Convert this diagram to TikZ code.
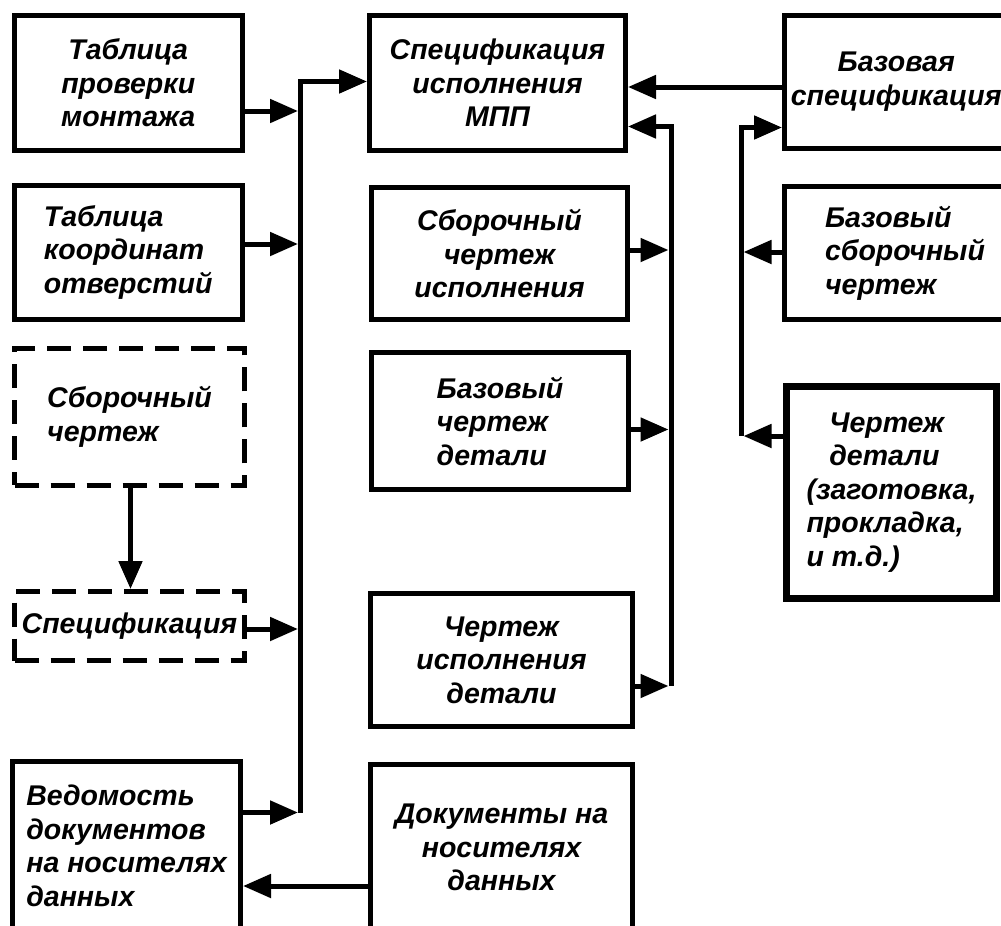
\documentclass[tikz,border=0pt]{standalone}
\usepackage{fontspec}
\setmainfont{Liberation Sans}
\usetikzlibrary{arrows.meta}
\begin{document}
\begin{tikzpicture}[x=1pt,y=-1pt,
  box/.style={draw, line width=5pt, inner sep=0pt, line join=miter,
    font=\fontsize{28.5}{33.5}\selectfont\bfseries\itshape, align=center},
  lbox/.style={box, align=left},
  dbox/.style={box, dash pattern=on 24pt off 12pt},
  conn/.style={line width=5pt, line join=miter},
  arr/.style={conn, -{Triangle[length=28pt,width=23pt]}},
  arrb/.style={arr, shorten >=2.5pt},
]
\useasboundingbox (0,0) rectangle (1001,926);

% left column
\node[box, minimum width=227.5pt, minimum height=135pt] (B1) at (128.25,83) {Таблица\\проверки\\монтажа};
\node[lbox, minimum width=227.5pt, minimum height=134pt] (B2) at (128.25,252.5) {Таблица\\координат\\отверстий};
\node[dbox, align=left, minimum width=230pt, minimum height=136.5pt] (B3) at (129.5,417) {Сборочный\\чертеж};
\node[dbox, minimum width=230pt, minimum height=69pt] (B4) at (129.5,626) {Спецификация};
\node[lbox, minimum width=228pt, minimum height=169pt] (B5) at (126.5,846) {Ведомость\\документов\\на носителях\\данных};

% centre column
\node[box, minimum width=256pt, minimum height=135pt] (C1) at (497.5,83) {Спецификация\\исполнения\\МПП};
\node[box, minimum width=256pt, minimum height=132pt] (C2) at (499.5,253.5) {Сборочный\\чертеж\\исполнения};
\node[lbox, minimum width=256.5pt, minimum height=136.5pt] (C3) at (500,421) {Базовый\\чертеж\\детали};
\node[box, minimum width=262pt, minimum height=132.5pt] (C4) at (501.5,660) {Чертеж\\исполнения\\детали};
\node[box, minimum width=262pt, minimum height=167pt] (C5) at (501.5,847.5) {Документы на\\носителях\\данных};

% right column
\node[box, minimum width=223.5pt, minimum height=133.5pt] (R1) at (896.25,81.75) {Базовая\\спецификация};
\node[lbox, minimum width=241pt, minimum height=133pt] (R2) at (905,253) {Базовый\\сборочный\\чертеж};
\node[lbox, line width=7pt, minimum width=210pt, minimum height=212pt] (R3) at (891.5,492.5)
  {\hspace*{0.8em}Чертеж\\\hspace*{0.8em}детали\\(заготовка,\\прокладка,\\и т.д.)};

% bus 1
\coordinate (b1t) at (300.5,81.5);
\coordinate (b1b) at (300.5,812.5);
\draw[arr] (b1b) -- (b1t) -- (b1t -| C1.west);
\draw[arrb] (B1.east |- 0,111) -- (b1t |- 0,111);
\draw[arrb] (B2.east |- 0,244) -- (b1t |- 0,244);
\draw[arrb] (B4.east |- 0,629) -- (b1t |- 0,629);
\draw[arrb] (B5.east |- b1b) -- (b1b);

% bus 2
\coordinate (b2t) at (671,126.5);
\coordinate (b2b) at (671,686);
\draw[arr] (b2b) -- (b2t) -- (b2t -| C1.east);
\draw[arrb] (C2.east |- 0,250) -- (b2t |- 0,250);
\draw[arrb] (C3.east |- 0,429.5) -- (b2t |- 0,429.5);
\draw[arrb] (C4.east |- b2b) -- (b2b);

% bus 3
\coordinate (b3t) at (741,127.5);
\coordinate (b3b) at (741,436);
\draw[arr] (b3b) -- (b3t) -- (b3t -| R1.west);
\draw[arrb] (R2.west |- 0,252) -- (b3t |- 0,252);
\draw[arrb] (R3.west |- b3b) -- (b3b);

% other connectors
\draw[arr] (R1.west |- 0,87) -- (C1.east |- 0,87);
\draw[arr] (C5.west |- 0,886) -- (B5.east |- 0,886);
\draw[arr] (B3.south -| 130.5,0) -- (B4.north -| 130.5,0);
\end{tikzpicture}
\end{document}
